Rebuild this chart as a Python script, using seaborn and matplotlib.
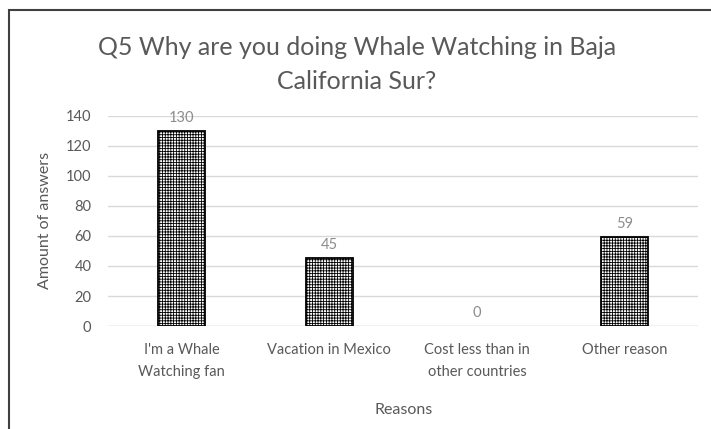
import matplotlib
matplotlib.use("Agg")
import matplotlib.pyplot as plt
import seaborn as sns
import pandas as pd
from matplotlib.patches import Rectangle

categories = ["I'm a Whale\nWatching fan", "Vacation in Mexico", "Cost less than in\nother countries", "Other reason"]
values = [130, 45, 0, 59]
yticks = [0, 20, 40, 60, 80, 100, 120, 140]

sns.set_theme(style="white")
plt.rcParams['font.family'] = ['Lato', 'DejaVu Sans']
plt.rcParams['hatch.linewidth'] = 0.6
plt.rcParams['hatch.color'] = '#6e6e6e'

df = pd.DataFrame({"Reason": categories, "Count": values})

fig = plt.figure(figsize=(7.11, 4.29), dpi=100)
ax = fig.add_axes([0.152, 0.240, 0.830, 0.490])

sns.barplot(data=df, x="Reason", y="Count", ax=ax, color="white", width=0.32,
            edgecolor="black", linewidth=1.3, hatch="++++++", saturation=1)

# zero-height bars are not outlined
for p in ax.patches:
    if p.get_height() == 0:
        p.set_visible(False)

ax.set_xlim(-0.5, len(categories) - 0.5)
ax.set_ylim(0, 140)
ax.set_yticks(yticks)
ax.yaxis.grid(True, color="#d9d9d9", linewidth=1)
ax.set_axisbelow(True)
for s in ax.spines.values():
    s.set_visible(False)
ax.axhline(0, color="#d9d9d9", linewidth=1, zorder=0)
ax.tick_params(axis='both', length=0, labelsize=10.5, colors="#595959")
ax.tick_params(axis='y', pad=12)
ax.tick_params(axis='x', pad=12)
for lbl in ax.get_xticklabels():
    lbl.set_linespacing(1.75)
ax.set_xlabel("Reasons", fontsize=11.5, color="#595959", labelpad=17)
ax.set_ylabel("Amount of answers", fontsize=11.5, color="#595959", labelpad=10)

for i, v in enumerate(values):
    ax.text(i, v + 4, str(v), ha="center", va="bottom", fontsize=10.5, color="#8c8c8c")

fig.text(0.502, 0.850, "Q5 Why are you doing Whale Watching in Baja\nCalifornia Sur?",
         ha="center", va="center", fontsize=18, color="#595959", linespacing=1.55)

# outer frame (left and top edges visible)
fig.add_artist(Rectangle((0.0127, -0.1), 1.2, 1.077, transform=fig.transFigure,
                         fill=False, edgecolor="#404040", linewidth=1.5))

fig.savefig("out.png", dpi=100)
